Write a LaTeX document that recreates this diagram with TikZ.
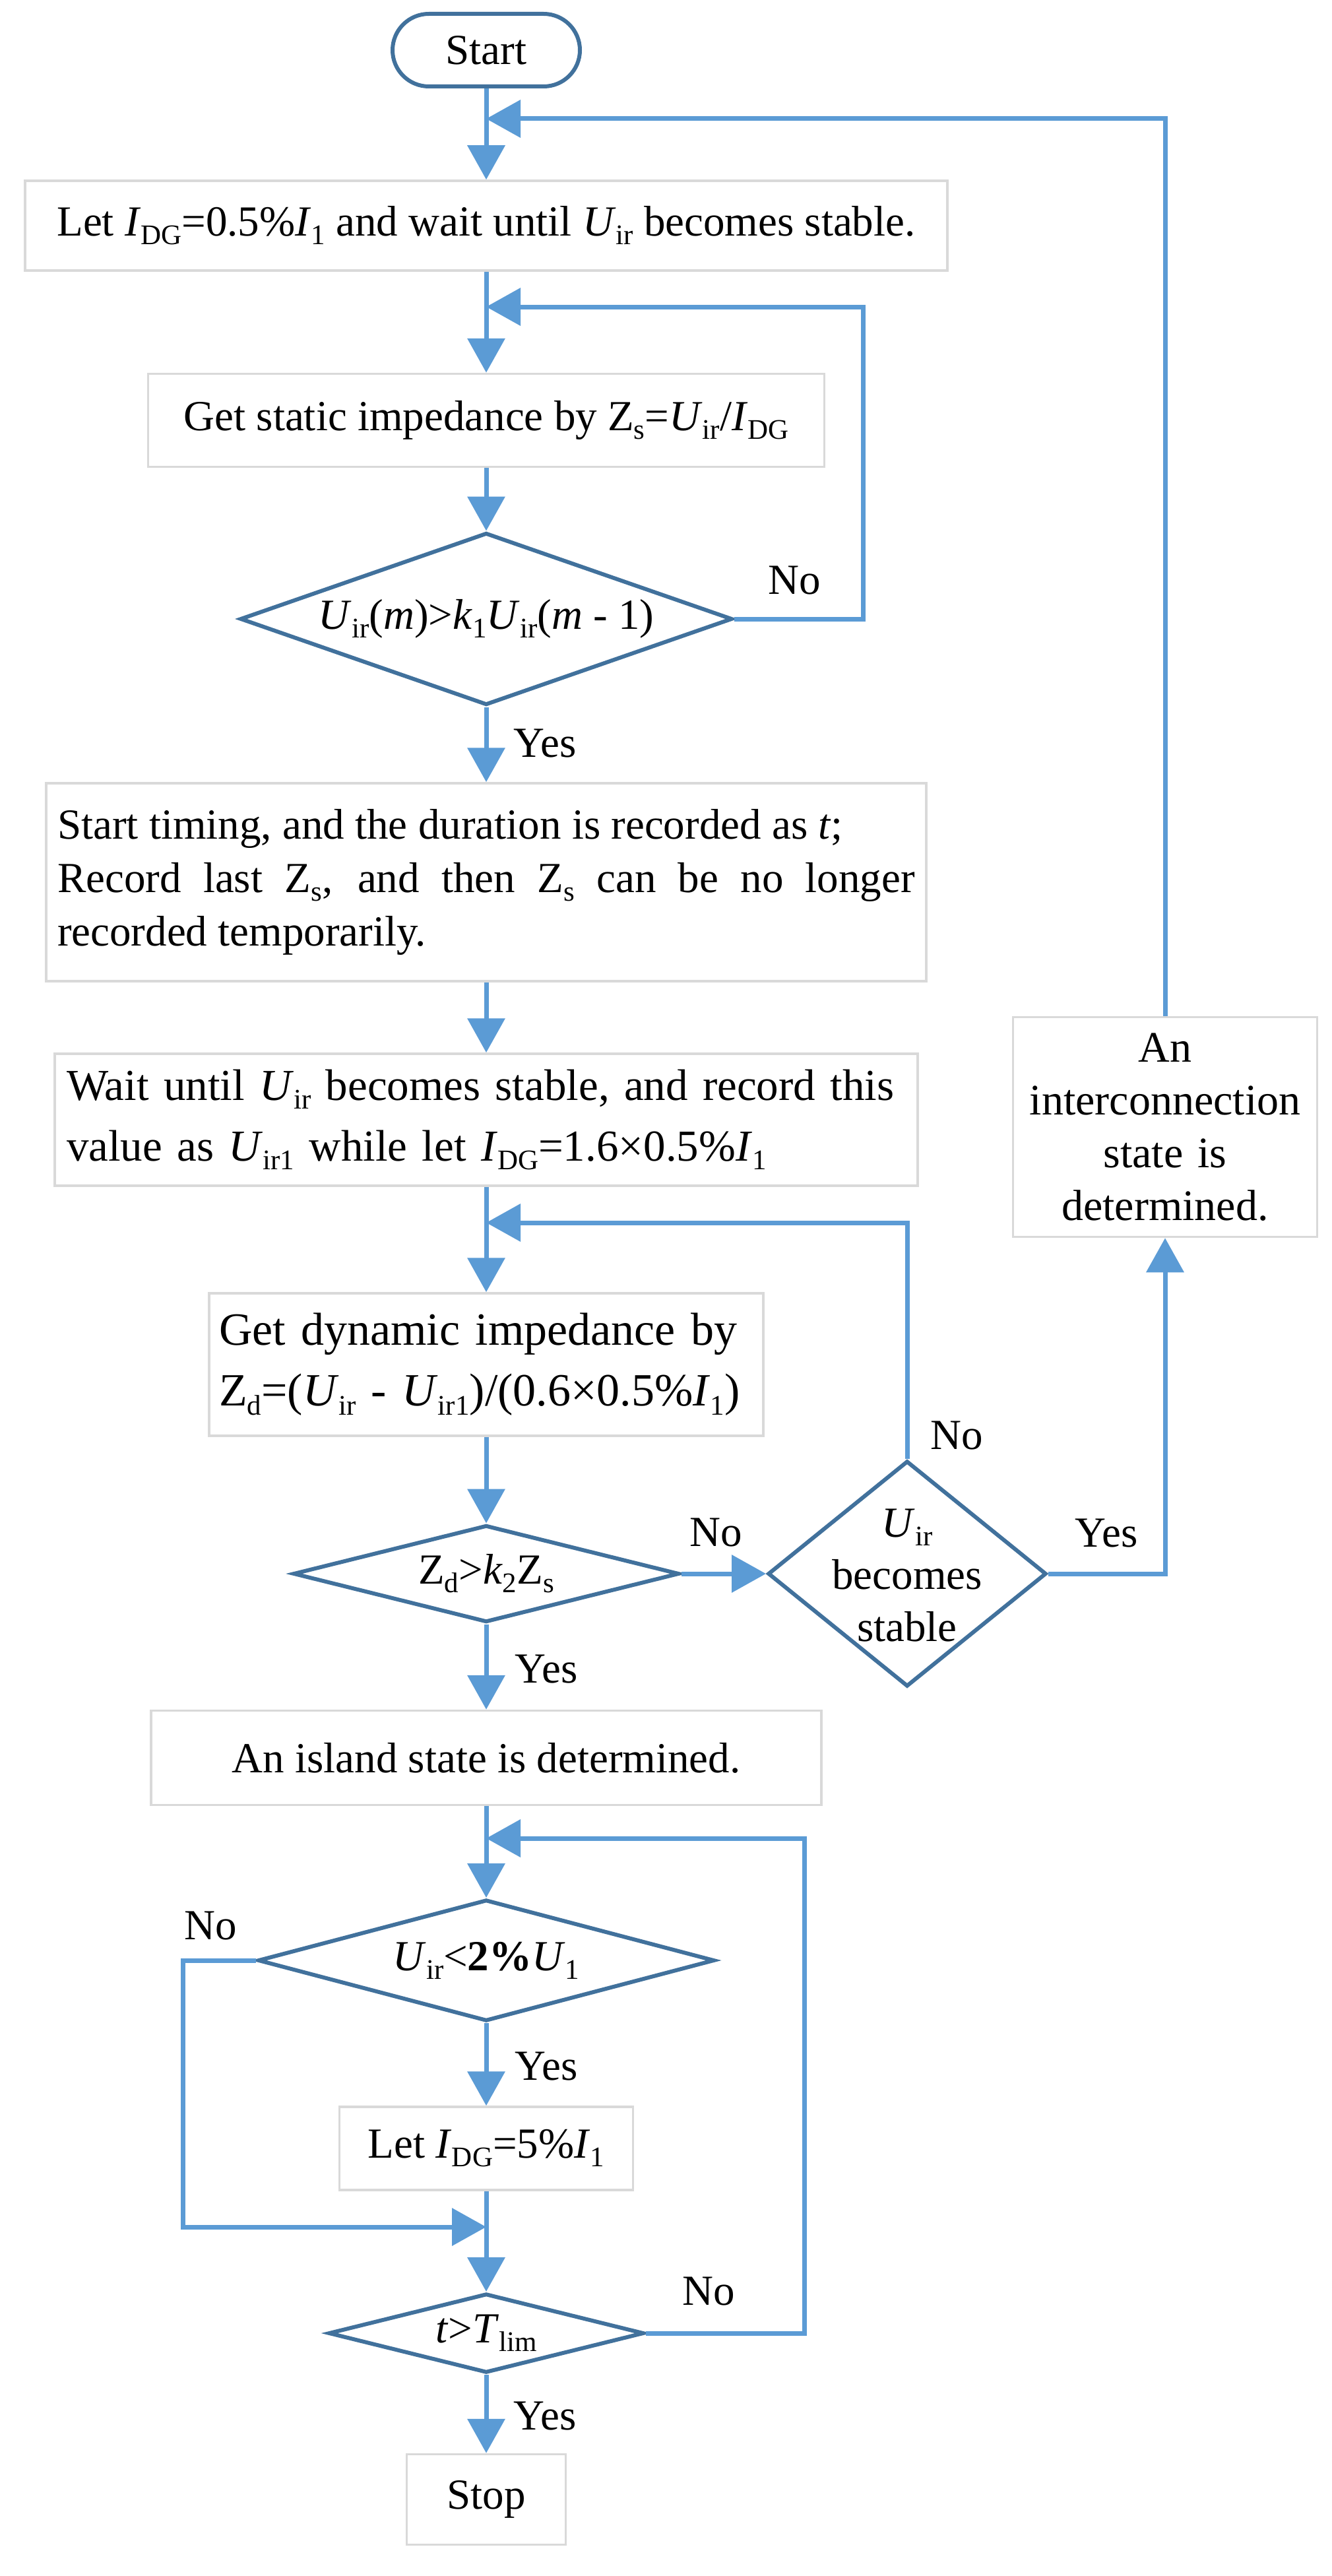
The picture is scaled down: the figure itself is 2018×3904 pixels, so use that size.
\documentclass[tikz,border=0pt]{standalone}
\usepackage{fontspec}
\setmainfont{Liberation Serif}
\usetikzlibrary{arrows.meta,shapes.geometric}
\definecolor{connc}{HTML}{5B9BD5}
\definecolor{diac}{HTML}{41719C}
\definecolor{boxc}{HTML}{D9D9D9}
\newcommand{\mysub}[1]{\raisebox{-0.2em}{\fontsize{43}{43}\selectfont #1}}
\newcommand{\myU}{\textit{U}}
\newcommand{\myI}{\textit{I}}
\begin{document}
\begin{tikzpicture}[x=1pt,y=-1pt,
  every node/.style={font=\fontsize{65}{80}\selectfont, inner sep=0pt},
  conn/.style={draw=connc, line width=7pt, -{Triangle[length=52pt,width=56pt]}},
  box/.style={draw=boxc, line width=3.5pt, rectangle, fill=white},
  dec/.style={draw=diac, line width=6pt, diamond, fill=white},
  startstop/.style={draw=diac, line width=6pt, rectangle, rounded corners=55pt, fill=white}]

\fill[white] (0,0) rectangle (2018,3904);
\useasboundingbox (0,0) rectangle (2018,3904);

% nodes
\node[startstop, minimum width=284pt, minimum height=110pt] (start) at (737,76) {Start};
\node[box, minimum width=1398pt, minimum height=136pt] (b1) at (737,342)
  {Let \myI\mysub{DG}=0.5\%\myI\mysub{1} and wait until \myU\mysub{ir} becomes stable.};
\node[box, minimum width=1025pt, minimum height=141pt] (b2) at (737,637)
  {Get static impedance by Z\mysub{s}=\myU\mysub{ir}/\myI\mysub{DG}};
\node[dec, minimum width=746pt, minimum height=261pt] (d1) at (737,938) {};
\node (d1t) at (d1.center) {\myU\mysub{ir}(\textit{m})>\textit{k}\mysub{1}\myU\mysub{ir}(\textit{m} - 1)};
\node[box, minimum width=1334pt, minimum height=300pt, text width=1300pt, align=justify,
  font=\fontsize{65}{81}\selectfont] (b3) at (737,1337)
  {Start timing, and the duration is recorded as \textit{t};\\
   Record last Z\mysub{s}, and then Z\mysub{s} can be no longer\linebreak
   recorded temporarily.};
\node[box, minimum width=1308pt, minimum height=200pt, text width=1272pt, align=left,
  font=\fontsize{67}{92}\selectfont] (b4) at (737,1697)
  {Wait until \myU\mysub{ir} becomes stable, and record this\\
   value as \myU\mysub{ir1} while let \myI\mysub{DG}=1.6×0.5\%\myI\mysub{1}};
\node[box, minimum width=840pt, minimum height=216pt, text width=810pt, align=left,
  font=\fontsize{70}{92}\selectfont] (b5) at (737,2068)
  {Get dynamic impedance by\\
   Z\mysub{d}=(\myU\mysub{ir} - \myU\mysub{ir1})/(0.6×0.5\%\myI\mysub{1})};
\node[dec, minimum width=585pt, minimum height=147pt] (d2) at (737,2385) {};
\node (d2t) at (d2.center) {Z\mysub{d}>\textit{k}\mysub{2}Z\mysub{s}};
\node[dec, minimum width=422pt, minimum height=342pt] (d3) at (1375,2385) {};
\node[align=center, font=\fontsize{65}{79}\selectfont] (d3t) at (1375,2388)
  {\myU\mysub{ir}\\ becomes\\ stable};
\node[box, minimum width=461pt, minimum height=333pt, text width=440pt, align=center,
  font=\fontsize{66}{80}\selectfont] (b9) at (1766,1708)
  {An\\ interconnection\\ state is\\ determined.};
\node[box, minimum width=1016pt, minimum height=143pt] (b6) at (737,2664)
  {An island state is determined.};
\node[dec, minimum width=692pt, minimum height=184pt] (d4) at (737,2971) {};
\node (d4t) at (d4.center) {\myU\mysub{ir}<\textbf{2\%}\myU\mysub{1}};
\node[box, minimum width=445pt, minimum height=126pt] (b7) at (737,3256)
  {Let \myI\mysub{DG}=5\%\myI\mysub{1}};
\node[dec, minimum width=478pt, minimum height=120pt] (d5) at (737,3536) {};
\node (d5t) at (d5.center) {\textit{t}>\textit{T}\mysub{lim}};
\node[box, minimum width=241pt, minimum height=137pt] (b8) at (737,3788) {Stop};

% junction and corner coordinates
\coordinate (j1) at (737,180);
\coordinate (j2) at (737,465);
\coordinate (j3) at (737,1853);
\coordinate (j4) at (737,2786);
\coordinate (j5) at (737,3375);
\coordinate (k2) at (1308,465);
\coordinate (k4) at (1219,2786);
\coordinate (k5) at (277,3375);

% main flow
\draw[conn] (start.south) -- (b1.north);
\draw[conn] (b1.south) -- (b2.north);
\draw[conn] (b2.south) -- (d1.north);
\draw[conn] (d1.south) -- (b3.north);
\draw[conn] (b3.south) -- (b4.north);
\draw[conn] (b4.south) -- (b5.north);
\draw[conn] (b5.south) -- (d2.north);
\draw[conn] (d2.east) -- (d3.west);
\draw[conn] (d2.south) -- (b6.north);
\draw[conn] (b6.south) -- (d4.north);
\draw[conn] (d4.south) -- (b7.north);
\draw[conn] (b7.south) -- (d5.north);
\draw[conn] (d5.south) -- (b8.north);

% loops
\draw[conn] (d3.east) -| (b9.south);
\draw[conn] (b9.north) |- (j1);
\draw[conn] (d1.east) -| (k2) -- (j2);
\draw[conn] (d3.north) |- (j3);
\draw[conn] (d5.east) -| (k4) -- (j4);
\draw[conn] (d4.west) -| (k5) -- (j5);

% labels
\node (n1) at (1204,880) {No};
\node (y1) at (826,1127) {Yes};
\node (n3) at (1450,2176) {No};
\node (n2) at (1085,2323) {No};
\node (y3) at (1677,2324) {Yes};
\node (y2) at (828,2530) {Yes};
\node (n4) at (319,2919) {No};
\node (y4) at (828,3131) {Yes};
\node (n5) at (1074,3472) {No};
\node (y5) at (826,3661) {Yes};
\end{tikzpicture}
\end{document}
